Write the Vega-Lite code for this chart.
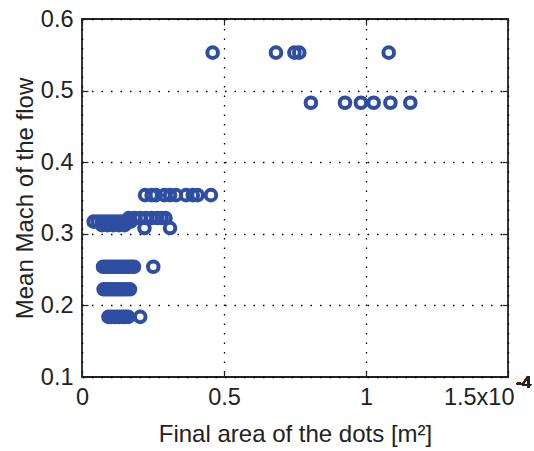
{
  "$schema": "https://vega.github.io/schema/vega-lite/v6.json",
  "width": 426,
  "height": 358,
  "autosize": {"type": "none"},
  "padding": {"left": 82, "top": 19, "right": 26, "bottom": 74},
  "background": "white",
  "config": {
    "font": "Liberation Sans",
    "view": {"stroke": "#222222", "strokeWidth": 1.8},
    "axis": {
      "domain": false,
      "labelFont": "Liberation Sans",
      "labelFontSize": 23.5,
      "labelColor": "#222222",
      "titleFont": "Liberation Sans",
      "titleFontSize": 24,
      "titleFontWeight": "normal",
      "titleColor": "#222222",
      "tickColor": "#222222",
      "tickWidth": 1.2,
      "tickSize": -6,
      "gridColor": "#000000",
      "gridDash": [1.5, 8],
      "gridWidth": 1.3,
      "gridOpacity": 1
    }
  },
  "data": {
    "values": [
      {"area": 0.0000460, "mach": 0.553},
      {"area": 0.0000683, "mach": 0.553},
      {"area": 0.0000748, "mach": 0.553},
      {"area": 0.0000765, "mach": 0.553},
      {"area": 0.0001080, "mach": 0.553},
      {"area": 0.0000806, "mach": 0.483},
      {"area": 0.0000926, "mach": 0.483},
      {"area": 0.0000982, "mach": 0.483},
      {"area": 0.0001027, "mach": 0.483},
      {"area": 0.0001086, "mach": 0.483},
      {"area": 0.0001156, "mach": 0.483},
      {"area": 0.0000222, "mach": 0.354},
      {"area": 0.0000245, "mach": 0.354},
      {"area": 0.0000260, "mach": 0.354},
      {"area": 0.0000290, "mach": 0.354},
      {"area": 0.0000310, "mach": 0.354},
      {"area": 0.0000331, "mach": 0.354},
      {"area": 0.0000366, "mach": 0.354},
      {"area": 0.0000390, "mach": 0.354},
      {"area": 0.0000407, "mach": 0.354},
      {"area": 0.0000454, "mach": 0.354},
      {"area": 0.0000165, "mach": 0.322},
      {"area": 0.0000185, "mach": 0.322},
      {"area": 0.0000205, "mach": 0.322},
      {"area": 0.0000225, "mach": 0.322},
      {"area": 0.0000245, "mach": 0.322},
      {"area": 0.0000265, "mach": 0.322},
      {"area": 0.0000280, "mach": 0.322},
      {"area": 0.0000294, "mach": 0.322},
      {"area": 0.0000041, "mach": 0.317},
      {"area": 0.0000055, "mach": 0.317},
      {"area": 0.0000070, "mach": 0.317},
      {"area": 0.0000085, "mach": 0.317},
      {"area": 0.0000100, "mach": 0.317},
      {"area": 0.0000115, "mach": 0.317},
      {"area": 0.0000130, "mach": 0.317},
      {"area": 0.0000145, "mach": 0.317},
      {"area": 0.0000160, "mach": 0.317},
      {"area": 0.0000171, "mach": 0.317},
      {"area": 0.0000070, "mach": 0.312},
      {"area": 0.0000090, "mach": 0.312},
      {"area": 0.0000110, "mach": 0.312},
      {"area": 0.0000130, "mach": 0.312},
      {"area": 0.0000150, "mach": 0.312},
      {"area": 0.0000220, "mach": 0.308},
      {"area": 0.0000310, "mach": 0.308},
      {"area": 0.0000074, "mach": 0.254},
      {"area": 0.0000085, "mach": 0.254},
      {"area": 0.0000095, "mach": 0.254},
      {"area": 0.0000105, "mach": 0.254},
      {"area": 0.0000115, "mach": 0.254},
      {"area": 0.0000125, "mach": 0.254},
      {"area": 0.0000135, "mach": 0.254},
      {"area": 0.0000145, "mach": 0.254},
      {"area": 0.0000155, "mach": 0.254},
      {"area": 0.0000165, "mach": 0.254},
      {"area": 0.0000175, "mach": 0.254},
      {"area": 0.0000183, "mach": 0.254},
      {"area": 0.0000251, "mach": 0.254},
      {"area": 0.0000076, "mach": 0.2225},
      {"area": 0.0000086, "mach": 0.2225},
      {"area": 0.0000096, "mach": 0.2225},
      {"area": 0.0000106, "mach": 0.2225},
      {"area": 0.0000116, "mach": 0.2225},
      {"area": 0.0000126, "mach": 0.2225},
      {"area": 0.0000136, "mach": 0.2225},
      {"area": 0.0000146, "mach": 0.2225},
      {"area": 0.0000156, "mach": 0.2225},
      {"area": 0.0000169, "mach": 0.2225},
      {"area": 0.0000093, "mach": 0.184},
      {"area": 0.0000103, "mach": 0.184},
      {"area": 0.0000113, "mach": 0.184},
      {"area": 0.0000123, "mach": 0.184},
      {"area": 0.0000133, "mach": 0.184},
      {"area": 0.0000143, "mach": 0.184},
      {"area": 0.0000153, "mach": 0.184},
      {"area": 0.0000163, "mach": 0.184},
      {"area": 0.0000205, "mach": 0.184}
    ]
  },
  "resolve": {"axis": {"x": "independent", "y": "independent"}},
  "layer": [
    {
      "mark": {"type": "point", "shape": "circle", "filled": false, "size": 112, "strokeWidth": 4, "color": "#2D4EA2", "opacity": 1},
      "encoding": {
        "x": {
          "field": "area",
          "type": "quantitative",
          "scale": {"domain": [0, 0.00015], "nice": false, "zero": false},
          "axis": {
            "orient": "bottom",
            "values": [0, 0.00005, 0.0001, 0.00015],
            "grid": true,
            "labelExpr": "datum.value == 0 ? '0' : datum.value > 0.00014 ? '1.5x10' : format(datum.value * 10000, '~g')",
            "labelAlign": {"condition": {"test": "datum.value > 0.00014", "value": "right"}, "value": "center"},
            "labelOffset": {"condition": {"test": "datum.value > 0.00014", "value": 6}, "value": 0},
            "labelPadding": 14,
            "title": "Final area of the dots [m²]",
            "titlePadding": 14
          }
        },
        "y": {
          "field": "mach",
          "type": "quantitative",
          "scale": {"domain": [0.1, 0.6], "nice": false, "zero": false},
          "axis": {
            "orient": "left",
            "values": [0.1, 0.2, 0.3, 0.4, 0.5, 0.6],
            "format": ".1f",
            "grid": true,
            "labelPadding": 15,
            "title": "Mean Mach of the flow",
            "titlePadding": 3
          }
        }
      }
    },
    {
      "mark": {"type": "point", "opacity": 0},
      "encoding": {
        "x": {
          "field": "area",
          "type": "quantitative",
          "axis": {"orient": "top", "values": [0, 0.00005, 0.0001, 0.00015], "labels": false, "grid": false, "title": null}
        },
        "y": {
          "field": "mach",
          "type": "quantitative",
          "axis": {"orient": "right", "values": [0.1, 0.2, 0.3, 0.4, 0.5, 0.6], "labels": false, "grid": false, "title": null}
        }
      }
    },
    {
      "mark": {"type": "text", "align": "left", "baseline": "middle", "dx": 8, "dy": 6, "fontSize": 17, "font": "Liberation Sans", "color": "#222222"},
      "encoding": {
        "x": {"datum": 0.00015, "type": "quantitative", "axis": null},
        "y": {"datum": 0.1, "type": "quantitative", "axis": null},
        "text": {"value": "-4"}
      }
    }
  ]
}
